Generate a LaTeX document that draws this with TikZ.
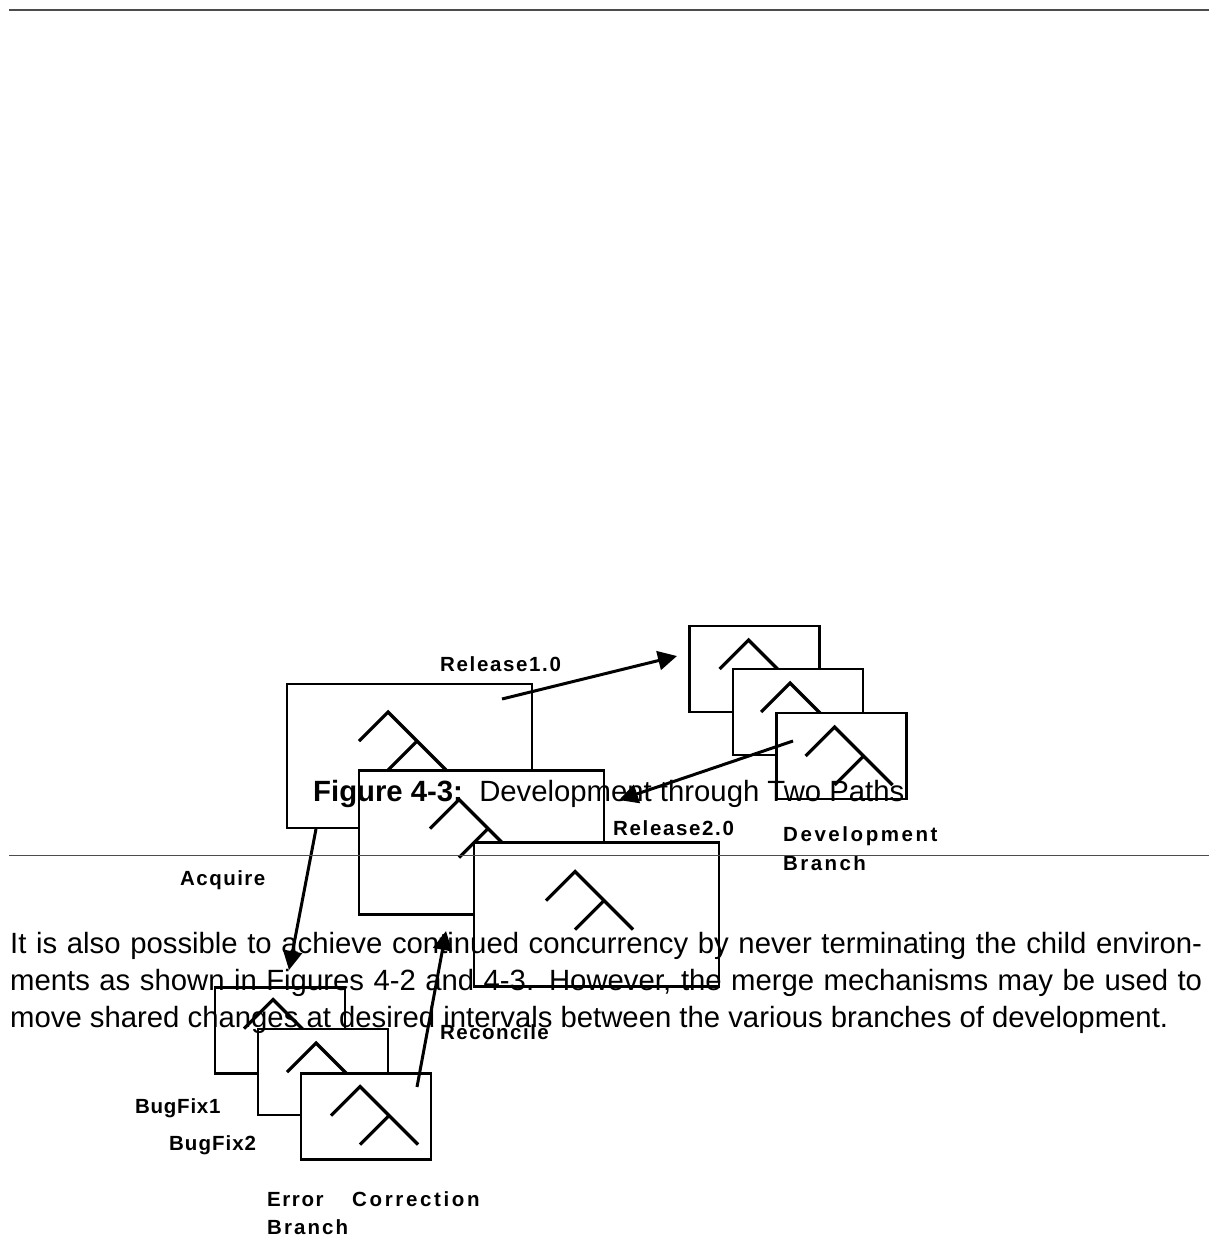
\documentclass[tikz,border=0pt]{standalone}
\usepackage{fontspec}
\setmainfont{Liberation Sans}
\newfontfamily\lblfont[LetterSpace=8]{Liberation Sans}
\usetikzlibrary{arrows.meta}
\newcommand{\lsp}[1]{\addfontfeature{LetterSpace=#1}}
\tikzset{
  boxline/.style={draw=black, line width=2.8pt, fill=white, inner sep=0pt, outer sep=0pt},
  bigbox/.style={boxline, minimum width=245pt, minimum height=144pt},
  smallbox/.style={boxline, minimum width=130pt, minimum height=86pt},
  glyphline/.style={line width=3.2pt},
  glyph/.pic={\draw[glyphline] (-29,29) -- (0,0) -- (58,58) (29,29) -- (0,58);},
  arr/.style={line width=3pt, -{Triangle[length=19pt,width=19pt]}},
  lbl/.style={font=\lblfont\bfseries\fontsize{20.5}{23}\selectfont, inner sep=0pt, anchor=base west},
  body/.style={font=\fontsize{29.3}{34}\selectfont, inner sep=0pt, anchor=base west},
  rule/.style={draw=black!70, line width=1.5pt}
}
\begin{document}
\begin{tikzpicture}[x=1pt,y=-1pt]
\useasboundingbox[fill=white] (0,0) rectangle (1209,1247);
% main branch boxes
\node[bigbox] (A) at (409.5,756) {};
\pic at ([shift={(101,28)}]A.north west) {glyph};
\node[bigbox] (B) at (481.5,842.5) {};
\pic at ([shift={(100,29)}]B.north west) {glyph};
\node[bigbox] (C) at (596.5,914.5) {};
\pic at ([shift={(101,29)}]C.north west) {glyph};
% development branch
\node[smallbox] (D1) at (754.5,669) {};
\pic at ([shift={(59,14)}]D1.north west) {glyph};
\node[smallbox] (D2) at (798,712) {};
\pic at ([shift={(57,14)}]D2.north west) {glyph};
\node[smallbox] (D3) at (841.5,756) {};
\pic at ([shift={(58,14)}]D3.north west) {glyph};
% error correction branch
\node[smallbox] (E1) at (280,1030.5) {};
\pic at ([shift={(58,12)}]E1.north west) {glyph};
\node[smallbox] (E2) at (323,1072) {};
\pic at ([shift={(58,14)}]E2.north west) {glyph};
\node[smallbox] (E3) at (366,1116.5) {};
\pic at ([shift={(59,13)}]E3.north west) {glyph};
% arrows
\coordinate (r1s) at (502,699);
\coordinate (r1e) at (677,656);
\coordinate (dvs) at (793,741);
\coordinate (dve) at (619,800);
\coordinate (aqs) at (316,829);
\coordinate (aqe) at (289,970);
\coordinate (rcs) at (417,1087);
\coordinate (rce) at (446,931);
\draw[arr] (r1s) -- (r1e);
\draw[arr] (dvs) -- (dve);
\draw[arr] (aqs) -- (aqe);
\draw[arr] (rcs) -- (rce);
% labels
\node[lbl] (lr1) at (440,671) {Release1.0};
\node[lbl] (lr2) at (613,835) {Release2.0};
\node[lbl] (ldev) at (783,841) {\lsp{12.5}Development};
\node[lbl] (ldevb) at (783,870) {\lsp{11.7}Branch};
\node[lbl] (lacq) at (180,885) {\lsp{7.1}Acquire};
\node[lbl] (lrec) at (440,1039) {\lsp{7.2}Reconcile};
\node[lbl] (lbf1) at (135,1113) {\lsp{3.6}BugFix1};
\node[lbl] (lbf2) at (169,1150) {\lsp{4.9}BugFix2};
\node[lbl] (lerr) at (267,1206) {\lsp{7.7}Error};
\node[lbl] (lcor) at (352,1206) {\lsp{12.9}Correction};
\node[lbl] (lerrb) at (267,1234) {\lsp{10}Branch};
% page elements
\coordinate (t1) at (9,10);
\coordinate (t2) at (1209,10);
\draw[rule] (t1) -- (t2);
\coordinate (m1) at (9,855.5);
\coordinate (m2) at (1209,855.5);
\draw[rule] (m1) -- (m2);
\node[body] (cap) at (313,801) {\textbf{Figure 4-3:}~~Development through Two Paths};
\node[body] (p1) at (10,953) {\makebox[1192pt][s]{It is also possible to achieve continued concurrency by never terminating the child environ-}};
\node[body] (p2) at (10,990) {\makebox[1192pt][s]{ments as shown in Figures 4-2 and 4-3.  However, the merge mechanisms may be used to}};
\node[body] (p3) at (10,1027) {move shared changes at desired intervals between the various branches of development.};
\end{tikzpicture}
\end{document}
